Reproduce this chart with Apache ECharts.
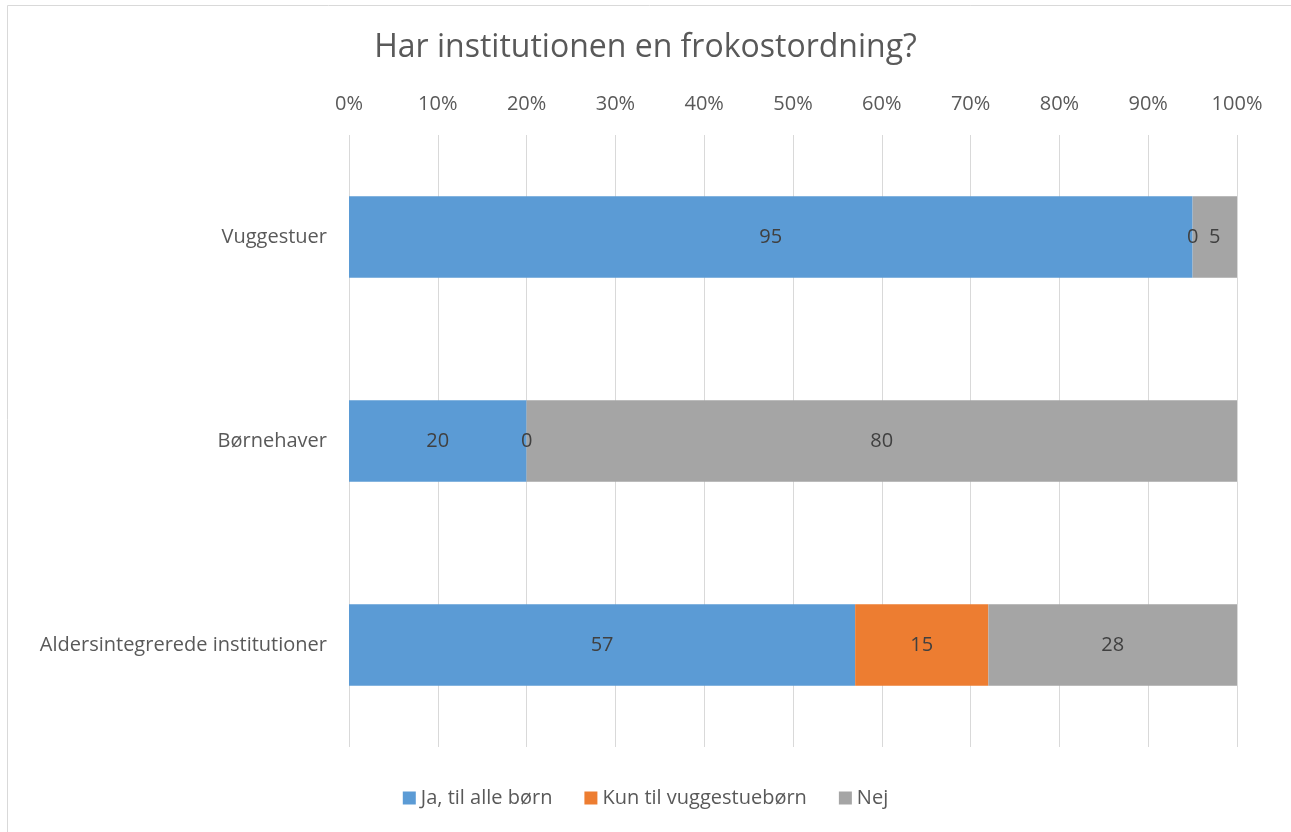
<!DOCTYPE html>
<html><head><meta charset="utf-8">
<script src="https://cdn.jsdelivr.net/npm/echarts@6/dist/echarts.min.js"></script>
<style>html,body{margin:0;padding:0;background:#fff}#c{width:1291px;height:832px}</style>
</head><body><div id="c"></div>
<script>
const categories = ['Vuggestuer', 'Børnehaver', 'Aldersintegrerede institutioner'];
const seriesNames = ['Ja, til alle børn', 'Kun til vuggestuebørn', 'Nej'];
const jaValues = [95, 20, 57];
const kunValues = [0, 0, 15];
const nejValues = [5, 80, 28];
const colors = ['#5B9BD5', '#ED7D31', '#A5A5A5'];
const FONT = 'Open Sans';
const chart = echarts.init(document.getElementById('c'));
const mk = (name, data, color) => ({
  name, type: 'bar', stack: 'total', data, barWidth: '40%',
  itemStyle: { color },
  label: { show: true, position: 'inside', color: '#404040', fontSize: 20, fontFamily: FONT },
  emphasis: { disabled: true }
});
chart.setOption({
  animation: false,
  textStyle: { fontFamily: FONT },
  graphic: [{ type: 'rect', shape: { x: 7.5, y: 5.5, width: 1300, height: 900 },
    style: { fill: 'none', stroke: '#d9d9d9', lineWidth: 1 }, silent: true }],
  title: { text: 'Har institutionen en frokostordning?', left: 'center', top: 27,
    textStyle: { fontSize: 32, fontWeight: 'normal', color: '#595959', fontFamily: FONT } },
  legend: { bottom: 19, left: 'center', itemWidth: 13, itemHeight: 13, itemGap: 32, icon: 'rect',
    textStyle: { fontSize: 20, color: '#595959', fontFamily: FONT }, data: seriesNames },
  grid: { left: 349, right: 54, top: 135, bottom: 85, containLabel: false },
  xAxis: { type: 'value', position: 'top', min: 0, max: 100, interval: 10,
    axisLine: { show: false }, axisTick: { show: false },
    axisLabel: { formatter: '{value}%', color: '#595959', fontSize: 20, margin: 21, fontFamily: FONT },
    splitLine: { lineStyle: { color: '#d9d9d9', width: 1 } } },
  yAxis: { type: 'category', data: categories, inverse: true,
    axisLine: { show: false }, axisTick: { show: false },
    axisLabel: { color: '#595959', fontSize: 20, margin: 22, fontFamily: FONT } },
  series: [mk(seriesNames[0], jaValues, colors[0]), mk(seriesNames[1], kunValues, colors[1]), mk(seriesNames[2], nejValues, colors[2])]
});
</script></body></html>
